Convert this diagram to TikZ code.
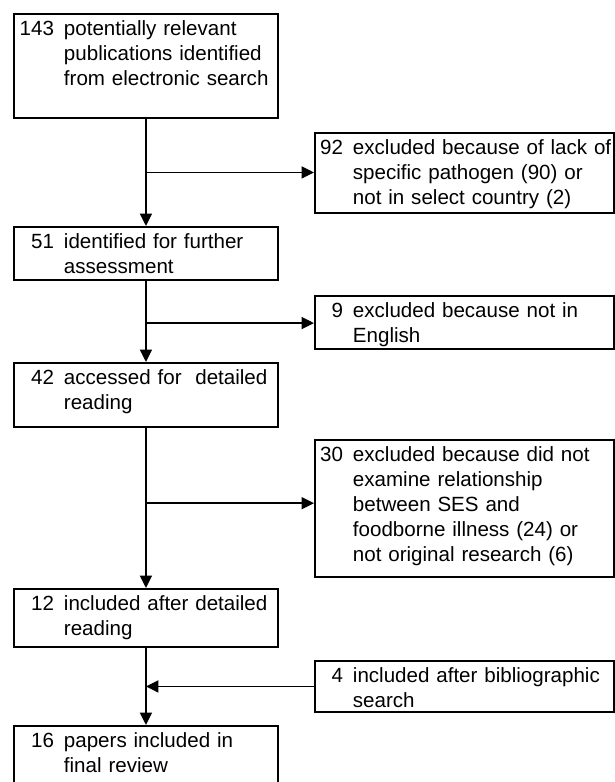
\documentclass[tikz,border=0pt]{standalone}
\usepackage{fontspec}
\setmainfont{Liberation Sans}
\usepackage{tikz}
\usetikzlibrary{arrows.meta,calc}

\newlength{\numw}
\newcommand{\rec}[3]{\parbox[t][#1][t]{\linewidth}{\mbox{\makebox[\numw][r]{#2}\hspace{0.2cm}\begin{tabular}[t]{@{}l@{}}#3\end{tabular}}}}

\tikzset{
  stage/.style={draw, anchor=north west, inner ysep=0.09cm, align=left,
    font=\fontsize{11.7}{14.2}\selectfont},
  leftstage/.style={stage, inner xsep=0.1cm, text width=5.08cm,
    execute at begin node={\setlength{\numw}{0.7cm}}},
  rightstage/.style={stage, inner xsep=0.08cm, text width=5.82cm,
    execute at begin node={\setlength{\numw}{0.48cm}}}
}

\begin{document}
\begin{tikzpicture}[line width=1.1pt, >={Triangle[length=0.25cm,width=0.24cm]}]
      \useasboundingbox (0,0) rectangle (12.3,-15.64);
      % main column
      \node [leftstage] (b143) at (0.26,-0.26) {\rec{1.90cm}{143}{potentially relevant\\publications identified\\from electronic search}};
      \node [leftstage] (b51) at (0.26,-4.52) {\rec{0.88cm}{51}{identified for further\\assessment}};
      \node [leftstage] (b42) at (0.26,-7.24) {\rec{1.10cm}{42}{accessed for\ \ detailed\\reading}};
      \node [leftstage] (b12) at (0.26,-11.76) {\rec{0.98cm}{12}{included after detailed\\reading}};
      \node [leftstage] (b16) at (0.26,-14.50) {\rec{1.10cm}{16}{papers included in\\final review}};
      % side boxes
      \node [rightstage] (b92) at (6.28,-2.64) {\rec{1.42cm}{92}{excluded because of lack of\\specific pathogen (90) or\\not in select country (2)}};
      \node [rightstage] (b9) at (6.28,-5.90) {\rec{0.88cm}{9}{excluded because not in\\English}};
      \node [rightstage] (b30) at (6.28,-8.78) {\rec{2.56cm}{30}{excluded because did not\\examine relationship\\between SES and\\foodborne illness (24) or\\not original research (6)}};
      \node [rightstage] (b4) at (6.28,-13.20) {\rec{0.84cm}{4}{included after bibliographic\\search}};
      % connectors
      \coordinate (j1) at ($(b143.south)!0.5!(b51.north)$);
      \coordinate (j2) at ($(b51.south)!0.52!(b42.north)$);
      \coordinate (j3) at ($(b42.south)!0.47!(b12.north)$);
      \draw [->] (b143.south) -- (b51.north);
      \draw [->] (b51.south) -- (b42.north);
      \draw [->] (b42.south) -- (b12.north);
      \draw [->] (b12.south) -- (b16.north);
      \draw [->] (j1) -- (j1 -| b92.west);
      \draw [->] (j2) -- (j2 -| b9.west);
      \draw [->] (j3) -- (j3 -| b30.west);
      \draw [->] (b4.west) -- (b4.west -| b12.south);
\end{tikzpicture}
\end{document}
